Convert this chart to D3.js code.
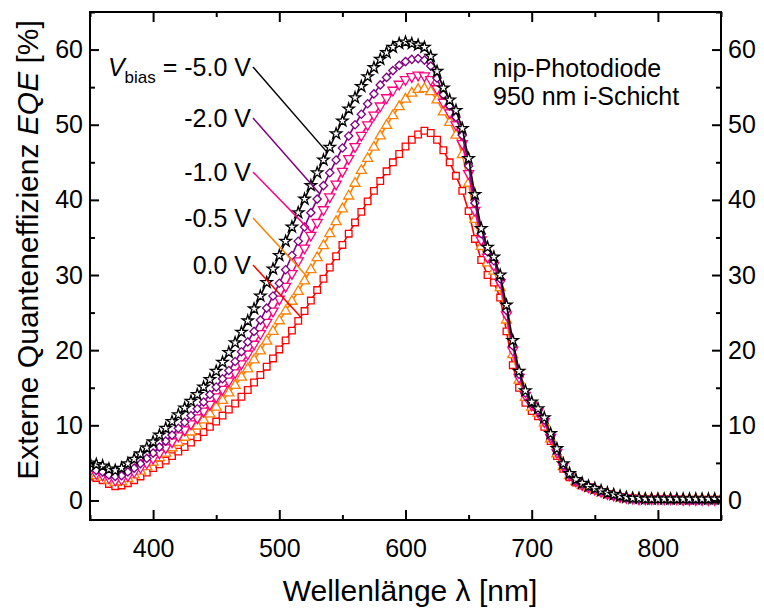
<!DOCTYPE html>
<html>
<head>
<meta charset="utf-8">
<script src="https://cdn.jsdelivr.net/npm/d3@7"></script>
<style>
  body { margin: 0; background: #fff; }
  svg { font-family: "Liberation Sans", Arial, sans-serif; }
</style>
</head>
<body>
<div id="chart"></div>
<script>
// wavelength grid (nm), one point every 5 nm
var wavelengths = d3.range(350, 851, 5);

// EQE [%], 350..850 nm
var eqe0V = [3.2,3.0,2.7,2.2,1.9,2.0,2.3,2.7,3.2,3.7,4.3,4.8,5.3,5.9,6.5,7.1,7.7,8.4,9.1,9.8,
  10.5,11.3,12.1,12.9,13.8,14.7,15.7,16.7,17.8,18.9,20.1,21.3,22.6,23.9,25.2,26.6,28.0,29.5,31.0,32.5,
  34.0,35.5,37.0,38.4,39.8,41.2,42.5,43.8,45.0,46.1,47.1,48.0,48.7,49.2,48.9,48.0,46.6,45.0,43.2,41.2,
  38.5,34.8,32.0,30.0,29.0,27.0,22.5,18.0,15.0,13.0,11.9,11.2,9.8,7.9,5.9,4.2,3.1,2.4,2.0,1.7,
  1.4,1.1,0.8,0.6,0.4,0.3,0.3,0.2,0.2,0.2,0.2,0.2,0.1,0.1,0.1,0.1,0.1,0.1,0.1,0.1,0.1];
var eqe05V = [3.5,3.3,3.1,2.7,2.4,2.5,2.9,3.4,3.9,4.5,5.1,5.7,6.3,7.0,7.7,8.4,9.1,9.9,10.7,11.5,
  12.4,13.3,14.3,15.3,16.4,17.5,18.7,19.9,21.2,22.5,23.9,25.2,26.5,27.8,29.2,30.7,32.3,33.9,35.5,37.1,
  38.8,40.5,42.2,43.9,45.5,47.0,48.5,49.9,51.2,52.4,53.4,54.2,54.7,54.8,54.4,53.3,51.7,50.3,48.6,46.0,
  42.2,37.4,33.8,31.6,30.5,28.3,24.0,19.4,16.0,13.7,12.4,11.6,10.3,8.2,6.2,4.5,3.3,2.5,2.0,1.8,
  1.5,1.2,0.9,0.7,0.5,0.4,0.3,0.2,0.2,0.2,0.2,0.2,0.2,0.1,0.1,0.1,0.1,0.1,0.1,0.1,0.1];
var eqe1V = [3.9,3.6,3.4,3.0,2.7,2.8,3.3,3.8,4.4,5.0,5.6,6.3,7.0,7.8,8.6,9.4,10.2,11.0,11.9,12.8,
  13.8,14.8,15.9,17.0,18.2,19.5,20.8,22.2,23.7,25.2,26.8,28.5,30.2,31.9,33.6,35.3,37.0,38.7,40.4,42.1,
  43.8,45.5,47.1,48.6,50.0,51.3,52.5,53.6,54.6,55.4,56.0,56.4,56.6,56.5,56.0,54.8,53.0,51.6,50.0,47.5,
  43.5,38.6,34.7,32.4,31.3,29.0,24.7,20.0,16.4,14.0,12.7,11.8,10.5,8.4,6.4,4.6,3.4,2.6,2.1,1.8,
  1.5,1.2,0.9,0.7,0.5,0.4,0.3,0.2,0.2,0.2,0.2,0.2,0.2,0.2,0.1,0.1,0.1,0.1,0.1,0.1,0.1];
var eqe2V = [4.3,4.0,3.8,3.4,3.2,3.3,3.8,4.3,4.9,5.6,6.3,7.1,7.9,8.7,9.6,10.4,11.3,12.2,13.1,14.1,
  15.1,16.2,17.3,18.5,19.8,21.1,22.5,24.0,25.6,27.2,28.9,30.7,32.6,34.5,36.4,38.3,40.1,41.9,43.6,45.3,
  46.9,48.5,50.0,51.4,52.8,54.1,55.3,56.3,57.2,57.9,58.4,58.7,58.8,58.6,57.8,56.2,54.0,52.5,51.0,48.6,
  44.5,39.6,35.5,33.1,31.9,29.5,25.3,20.6,16.8,14.3,12.9,12.0,10.7,8.6,6.6,4.7,3.5,2.7,2.2,1.9,
  1.6,1.3,1.0,0.7,0.5,0.4,0.3,0.2,0.2,0.2,0.2,0.2,0.2,0.2,0.2,0.1,0.1,0.1,0.1,0.1,0.1];
var eqe5V = [5.0,4.8,4.6,4.2,4.0,4.3,4.9,5.5,6.2,7.0,7.8,8.7,9.6,10.5,11.4,12.3,13.2,14.1,15.1,16.1,
  17.2,18.4,19.7,21.0,22.4,23.9,25.5,27.2,29.0,30.8,32.6,34.5,36.4,38.3,40.1,41.9,43.6,45.3,47.0,48.8,
  50.5,52.1,53.6,55.1,56.4,57.6,58.7,59.6,60.3,60.8,61.0,60.8,60.6,60.3,59.1,57.1,54.9,53.3,51.9,49.5,
  45.5,40.7,36.2,33.7,32.4,30.0,26.0,21.3,17.2,14.6,13.1,12.2,11.0,8.9,6.9,4.9,3.6,2.8,2.3,1.9,
  1.6,1.3,1.0,0.8,0.6,0.4,0.3,0.3,0.2,0.2,0.2,0.2,0.2,0.2,0.2,0.2,0.2,0.2,0.2,0.2,0.2];

var seriesNames = ["0.0 V", "-0.5 V", "-1.0 V", "-2.0 V", "-5.0 V"];
var seriesValues = [eqe0V, eqe05V, eqe1V, eqe2V, eqe5V];
var seriesColors = ["#ff0000", "#ff8000", "#ff0080", "#800080", "#000000"];
var seriesSymbols = ["square", "triangleUp", "triangleDown", "diamond", "star"];
// wavelength where each label's leader line touches its curve
var leaderAt = [517, 522, 526, 532, 538];
var labelY = [265, 218, 172, 118, 67];

var xTicks = [400, 500, 600, 700, 800];
var xMinor = [350, 450, 550, 650, 750, 850];
var yTicks = [0, 10, 20, 30, 40, 50, 60];
var yMinor = [5, 15, 25, 35, 45, 55, 65];

var W = 764, H = 610;
var pL = 90, pR = 721, pT = 12, pB = 520;

var svg = d3.select("#chart").append("svg")
  .attr("width", W).attr("height", H);

var x = d3.scaleLinear().domain([350, 850]).range([pL, pR]);
var y = d3.scaleLinear().domain([-2.6, 65]).range([pB, pT]);

svg.append("clipPath").attr("id", "clip")
  .append("rect").attr("x", pL).attr("y", pT)
  .attr("width", pR - pL).attr("height", pB - pT);

var plot = svg.append("g").attr("clip-path", "url(#clip)");

function symbolPath(kind) {
  if (kind == "square") return d3.symbol(d3.symbolSquare, 44)();
  if (kind == "triangleUp" || kind == "triangleDown") return d3.symbol(d3.symbolTriangle, 44)();
  if (kind == "diamond") return d3.symbol(d3.symbolSquare, 34)();
  return d3.symbol(d3.symbolStar, 40)();
}
function symbolRotate(kind) {
  if (kind == "triangleDown") return " rotate(180)";
  if (kind == "diamond") return " rotate(45)";
  return "";
}

var line = d3.line()
  .x(function(d) { return x(d[0]); })
  .y(function(d) { return y(d[1]); });

seriesValues.forEach(function(vals, i) {
  var pts = wavelengths.map(function(w, j) { return [w, vals[j]]; });
  var g = plot.append("g");
  g.append("path")
    .attr("d", line(pts))
    .attr("fill", "none")
    .attr("stroke", seriesColors[i])
    .attr("stroke-width", 1.6);
  g.selectAll("path.m")
    .data(pts)
    .enter()
    .append("path")
    .attr("class", "m")
    .attr("d", symbolPath(seriesSymbols[i]))
    .attr("transform", function(d) {
      return "translate(" + x(d[0]) + "," + y(d[1]) + ")" + symbolRotate(seriesSymbols[i]);
    })
    .attr("fill", "#fff")
    .attr("stroke", seriesColors[i])
    .attr("stroke-width", 1.3);
});

// frame
svg.append("rect")
  .attr("x", pL).attr("y", pT)
  .attr("width", pR - pL).attr("height", pB - pT)
  .attr("fill", "none").attr("stroke", "#000").attr("stroke-width", 2);

function styleAxis(g) {
  g.select(".domain").remove();
  g.selectAll(".tick line").attr("stroke", "#000").attr("stroke-width", 2);
  g.selectAll(".tick text").attr("fill", "#000")
    .attr("font-family", "Liberation Sans, Arial, sans-serif").attr("font-size", 25);
}

svg.append("g").attr("transform", "translate(0," + pB + ")")
  .call(d3.axisBottom(x).tickValues(xTicks).tickSize(-10).tickPadding(19).tickFormat(d3.format("d")))
  .call(styleAxis);
svg.append("g").attr("transform", "translate(0," + pB + ")")
  .call(d3.axisBottom(x).tickValues(xMinor).tickSize(-5).tickFormat(""))
  .call(styleAxis);
svg.append("g").attr("transform", "translate(0," + pT + ")")
  .call(d3.axisTop(x).tickValues(xTicks).tickSize(-10).tickFormat(""))
  .call(styleAxis);
svg.append("g").attr("transform", "translate(0," + pT + ")")
  .call(d3.axisTop(x).tickValues(xMinor).tickSize(-5).tickFormat(""))
  .call(styleAxis);

svg.append("g").attr("transform", "translate(" + pL + ",0)")
  .call(d3.axisLeft(y).tickValues(yTicks).tickSize(-9).tickPadding(7))
  .call(styleAxis);
svg.append("g").attr("transform", "translate(" + pL + ",0)")
  .call(d3.axisLeft(y).tickValues(yMinor).tickSize(-5).tickFormat(""))
  .call(styleAxis);
svg.append("g").attr("transform", "translate(" + pR + ",0)")
  .call(d3.axisRight(y).tickValues(yTicks).tickSize(-9).tickPadding(7))
  .call(styleAxis);
svg.append("g").attr("transform", "translate(" + pR + ",0)")
  .call(d3.axisRight(y).tickValues(yMinor).tickSize(-5).tickFormat(""))
  .call(styleAxis);

// axis titles
svg.append("text")
  .attr("x", 410).attr("y", 601)
  .attr("text-anchor", "middle").attr("font-size", 30)
  .text("Wellenlänge λ [nm]");

var yt = svg.append("text")
  .attr("transform", "translate(38,250) rotate(-90)")
  .attr("text-anchor", "middle").attr("font-size", 30);
yt.append("tspan").text("Externe Quanteneffizienz ");
yt.append("tspan").attr("font-style", "italic").text("EQE");
yt.append("tspan").text(" [%]");

// annotation
svg.append("text").attr("x", 493).attr("y", 77).attr("font-size", 25).text("nip-Photodiode");
svg.append("text").attr("x", 493).attr("y", 105).attr("font-size", 25).text("950 nm i-Schicht");

// bias labels with leader lines
function valueAt(vals, w) {
  var j = Math.floor((w - 350) / 5);
  var t = (w - wavelengths[j]) / 5;
  return vals[j] + (vals[j + 1] - vals[j]) * t;
}

seriesNames.forEach(function(name, i) {
  var ly = labelY[i];
  var t = svg.append("text")
    .attr("x", 251).attr("y", ly + 9)
    .attr("text-anchor", "end").attr("font-size", 25);
  if (i == 4) {
    t.append("tspan").attr("font-style", "italic").text("V");
    t.append("tspan").attr("font-size", 17).attr("dy", 7).text("bias");
    t.append("tspan").attr("dy", -7).text(" = " + name);
  } else {
    t.text(name);
  }
  var w = leaderAt[i];
  svg.append("line")
    .attr("x1", 253).attr("y1", ly)
    .attr("x2", x(w)).attr("y2", y(valueAt(seriesValues[i], w)))
    .attr("stroke", seriesColors[i]).attr("stroke-width", 1.5);
});
</script>
</body>
</html>
